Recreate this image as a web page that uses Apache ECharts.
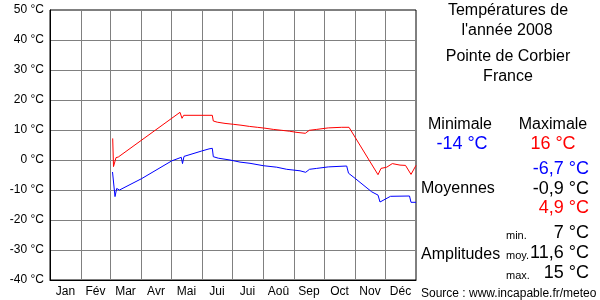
<!DOCTYPE html>
<html><head><meta charset="utf-8">
<script src="https://cdn.jsdelivr.net/npm/echarts@6/dist/echarts.min.js"></script>
<style>html,body{margin:0;padding:0;background:#fff}#c{width:600px;height:300px}</style>
</head><body><div id="c"></div>
<script>
// Month labels and month boundaries (day of year, 2008 leap year)
var months = ['Jan','Fév','Mar','Avr','Mai','Jui','Jui','Aoû','Sep','Oct','Nov','Déc'];
var monthStarts = [0,31,60,91,121,152,182,213,244,274,305,335,366];
var yTicks = [-40,-30,-20,-10,0,10,20,30,40,50];

// Maximum temperatures: day of year / °C
var maxDays  = [62.7,63.5,66,68.3,130,132,133.7,162.3,163.3,167.3,175,183.3,191,199.3,207.3,215,223.3,231.7,239.3,247,255.3,259.3,266.7,278.3,291.7,299,328,331,336.7,342.3,350,355.5,361,366];
var maxTemps = [7.2,-2.2,0.8,1.0,15.9,13.9,14.9,14.9,13.0,12.6,12.2,11.9,11.6,11.2,10.9,10.6,10.2,9.9,9.6,9.2,8.9,9.9,10.2,10.7,10.9,10.9,-4.9,-2.8,-2.4,-1.2,-1.7,-1.8,-4.8,-1.8];

// Minimum temperatures: day of year / °C
var minDays  = [62.5,65,66.7,68.5,69.5,91.7,121.7,131.3,132.5,134,151.7,159,162.3,163.3,168.3,180,190,200,213.3,226.7,236.7,250,255.7,259.5,266.7,278.3,296.7,298.5,305,321.7,328,330,335,340.5,359.5,361,366];
var minTemps = [-4,-12.2,-9.5,-9.5,-10,-6.2,-0.3,0.9,-1.2,1.2,3.0,3.7,3.9,1.1,0.6,0,-0.7,-1.1,-1.9,-2.4,-3.1,-3.6,-4.1,-3.1,-2.8,-2.3,-2.0,-4.4,-6.1,-10.6,-11.7,-14,-13.1,-12.1,-12,-14.1,-14.1];

var monthMids = [];
for (var i = 0; i < 12; i++) monthMids.push((monthStarts[i] + monthStarts[i+1]) / 2);

function zip(a, b) { return a.map(function (v, i) { return [v, b[i]]; }); }

var FF = '"Liberation Sans", Arial, sans-serif';
var chart = echarts.init(document.getElementById('c'), null, {renderer: 'canvas'});

function txt(x, y, s, size, color, align) {
  return {type: 'text', x: x, y: y, style: {text: s, font: size + 'px ' + FF, fill: color, align: align || 'center', verticalAlign: 'middle'}};
}

chart.setOption({
  animation: false,
  backgroundColor: '#fff',
  grid: {left: 50, top: 10, width: 366, height: 270, show: true, borderColor: '#000', borderWidth: 1, backgroundColor: 'transparent'},
  xAxis: {
    type: 'value', min: 0, max: 366,
    axisLine: {show: true, onZero: false, lineStyle: {color: '#000'}},
    axisTick: {show: false, customValues: monthStarts},
    splitLine: {show: true, showMinLine: false, showMaxLine: false, lineStyle: {color: '#808080', width: 1}},
    axisLabel: {
      customValues: monthMids, margin: 6, color: '#000', fontSize: 12, fontFamily: FF,
      formatter: function (v) { var k = monthMids.indexOf(v); return k >= 0 ? months[k] : ''; }
    }
  },
  yAxis: {
    type: 'value', min: -40, max: 50, interval: 10,
    axisLine: {show: true, onZero: false, lineStyle: {color: '#000'}},
    axisTick: {show: false},
    splitLine: {show: true, showMinLine: false, showMaxLine: false, lineStyle: {color: '#808080', width: 1}},
    axisLabel: {margin: 6, color: '#000', fontSize: 12, fontFamily: FF, formatter: '{value} °C'}
  },
  series: [
    {type: 'line', data: zip(maxDays, maxTemps), showSymbol: false, lineStyle: {color: '#ff0000', width: 1}, itemStyle: {color: '#ff0000'}},
    {type: 'line', data: zip(minDays, minTemps), showSymbol: false, lineStyle: {color: '#0000ff', width: 1}, itemStyle: {color: '#0000ff'}}
  ],
  graphic: [
    txt(508, 11, 'Températures de', 16, '#000'),
    txt(507, 31, "l'année 2008", 16, '#000'),
    txt(508, 57, 'Pointe de Corbier', 16, '#000'),
    txt(508, 77, 'France', 16, '#000'),
    txt(460, 125, 'Minimale', 16, '#000'),
    txt(553, 125, 'Maximale', 16, '#000'),
    txt(462, 144, '-14 °C', 18, '#0000ff'),
    txt(553, 144, '16 °C', 18, '#ff0000'),
    txt(589, 169, '-6,7 °C', 18, '#0000ff', 'right'),
    txt(421, 189, 'Moyennes', 16, '#000', 'left'),
    txt(589, 189, '-0,9 °C', 18, '#000', 'right'),
    txt(589, 208, '4,9 °C', 18, '#ff0000', 'right'),
    txt(506, 236, 'min.', 11, '#000', 'left'),
    txt(589, 233, '7 °C', 18, '#000', 'right'),
    txt(421, 255, 'Amplitudes', 16, '#000', 'left'),
    txt(506, 256, 'moy.', 11, '#000', 'left'),
    txt(589, 253, '11,6 °C', 18, '#000', 'right'),
    txt(506, 276, 'max.', 11, '#000', 'left'),
    txt(589, 273, '15 °C', 18, '#000', 'right'),
    txt(421, 294, 'Source : www.incapable.fr/meteo', 12, '#000', 'left')
  ]
});
</script></body></html>
